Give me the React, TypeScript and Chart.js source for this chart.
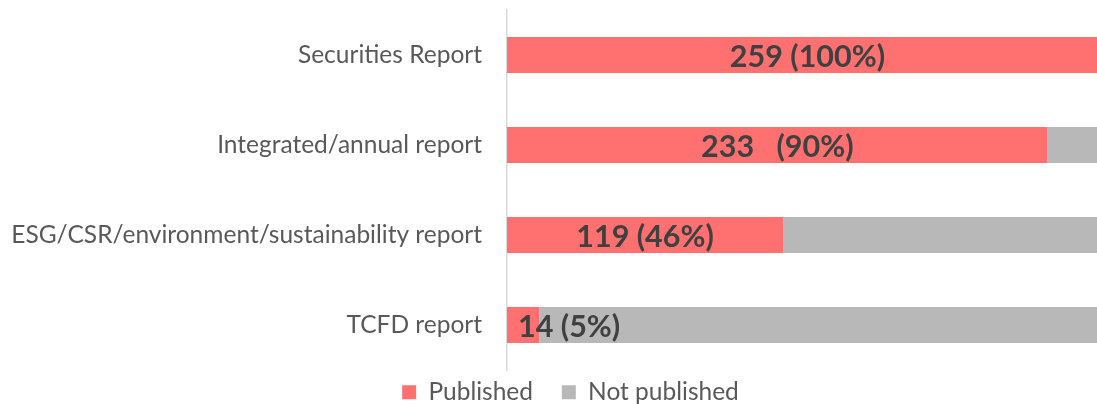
import React, { useEffect, useRef } from "react";
import { Chart, registerables } from "chart.js";

Chart.register(...registerables);

const categories = [
  "Securities Report",
  "Integrated/annual report",
  "ESG/CSR/environment/sustainability report",
  "TCFD report",
];
const published = [259, 233, 119, 14];
const notPublished = [0, 26, 140, 245];
const dataLabels = ["259 (100%)", "233   (90%)", "119 (46%)", "14 (5%)"];
const seriesNames = ["Published", "Not published"];

const RED = "#FF7171";
const GRAY = "#B8B8B8";
const FONT = "Lato";

const labelPlugin = {
  id: "barLabels",
  afterLayout(chart: any) {
    if (chart.legend) chart.legend.left = 44;
  },
  afterDatasetsDraw(chart: any) {
    const ctx = chart.ctx;
    const xs = chart.scales.x;
    const meta = chart.getDatasetMeta(0);
    ctx.save();
    ctx.font = `bold 30.5px ${FONT}`;
    ctx.fillStyle = "#404040";
    ctx.textAlign = "center";
    ctx.textBaseline = "middle";
    meta.data.forEach((bar: any, i: number) => {
      const start = xs.getPixelForValue(0);
      const end = xs.getPixelForValue(published[i]);
      const text = dataLabels[i];
      const w = ctx.measureText(text).width;
      const x = Math.max((start + end) / 2, start + 11 + w / 2);
      ctx.fillText(text, x, bar.y + 2);
    });
    ctx.restore();
  },
};

export default function App() {
  const ref = useRef<HTMLCanvasElement | null>(null);
  useEffect(() => {
    document.body.style.margin = "0";
    const chart = new Chart(ref.current as HTMLCanvasElement, {
      type: "bar",
      data: {
        labels: categories,
        datasets: [
          {
            label: seriesNames[0],
            data: published,
            backgroundColor: RED,
            borderWidth: 0,
            barPercentage: 0.4,
            categoryPercentage: 1,
          },
          {
            label: seriesNames[1],
            data: notPublished,
            backgroundColor: GRAY,
            borderWidth: 0,
            barPercentage: 0.4,
            categoryPercentage: 1,
          },
        ],
      },
      options: {
        indexAxis: "y",
        animation: false,
        responsive: true,
        maintainAspectRatio: false,
        layout: { autoPadding: false, padding: { top: 10, left: 0, right: 0, bottom: 0 } },
        scales: {
          x: {
            stacked: true,
            display: false,
            min: 0,
            max: 254.3,
          },
          y: {
            stacked: true,
            grid: { display: false, drawTicks: false },
            border: { display: true, color: "#D9D9D9", width: 1.5 },
            ticks: {
              padding: 25,
              color: "#595959",
              font: { family: FONT, size: 24.5 },
            },
            afterFit(scale: any) {
              scale.width = 507;
              scale.paddingTop = 0;
              scale.paddingBottom = 0;
            },
          },
        },
        plugins: {
          tooltip: { enabled: false },
          legend: {
            position: "bottom",
            maxHeight: 34,
            labels: {
              color: "#595959",
              font: { family: FONT, size: 24.5 },
              boxWidth: 14,
              boxHeight: 14,
              padding: 10,
              generateLabels(c: any) {
                const items = Chart.defaults.plugins.legend.labels.generateLabels(c);
                return items.map((it: any, i: number) => ({
                  ...it,
                  text: i === 0 ? it.text + "   " : it.text,
                  lineWidth: 0,
                }));
              },
            },
          },
        },
      },
      plugins: [labelPlugin],
    });
    return () => chart.destroy();
  }, []);
  return (
    <div style={{ position: "fixed", left: 0, top: 0, width: 1097, height: 404 }}>
      <canvas ref={ref} />
    </div>
  );
}
